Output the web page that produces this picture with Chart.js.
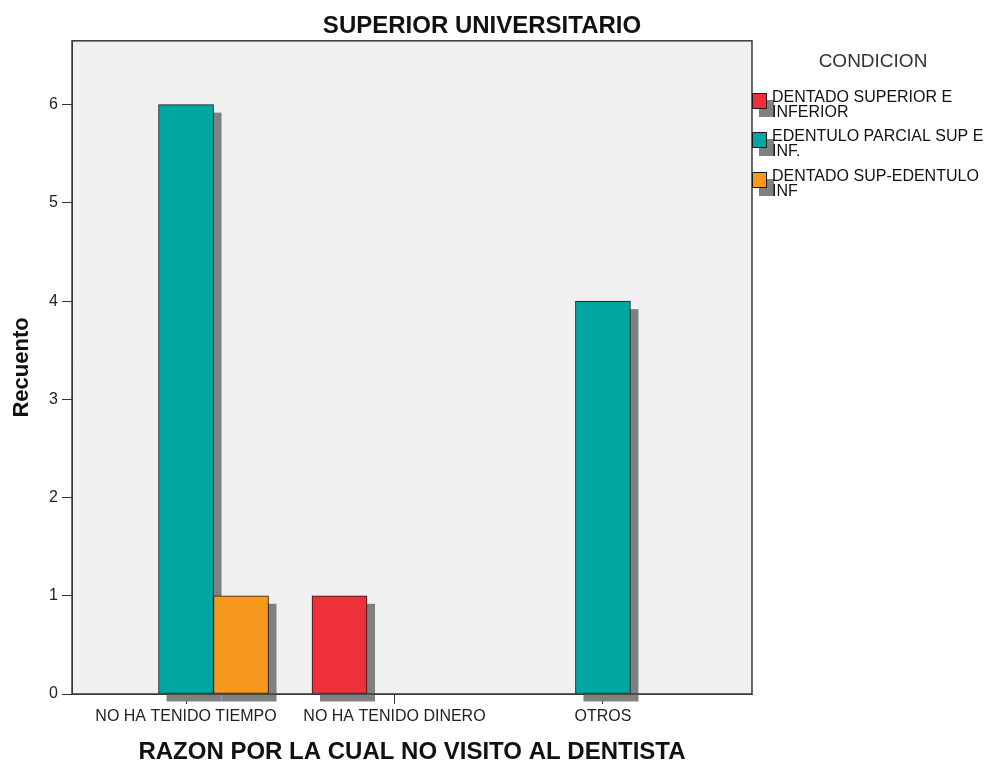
<!DOCTYPE html>
<html>
<head>
<meta charset="utf-8">
<script src="https://cdn.jsdelivr.net/npm/chart.js@4.4.0/dist/chart.umd.min.js"></script>
<style>
  html, body { margin: 0; padding: 0; background: #fff; }
</style>
</head>
<body>
<canvas id="chart" width="992" height="764"></canvas>
<script>
// Chart data
const categories = ['NO HA TENIDO TIEMPO', 'NO HA TENIDO DINERO', 'OTROS'];
const dentadoSupInf = [null, 1, null];
const edentuloParcial = [6, null, 4];
const dentadoSupEdentuloInf = [1, null, null];
const yTicks = [0, 1, 2, 3, 4, 5, 6];
const seriesLabels = ['DENTADO SUPERIOR E INFERIOR', 'EDENTULO PARCIAL SUP E INF.', 'DENTADO SUP-EDENTULO INF'];
const legendLines = [['DENTADO SUPERIOR E', 'INFERIOR'], ['EDENTULO PARCIAL SUP E', 'INF.'], ['DENTADO SUP-EDENTULO', 'INF']];
const seriesColors = ['#ee3038', '#00a6a2', '#f8991f'];

const FONT = "'Liberation Sans', Arial, sans-serif";

function toPoints(values) {
    return values.map((v, i) => ({ x: i, y: v }));
}

// Grey plot background and frame
const plotFrame = {
    id: 'plotFrame',
    beforeDraw(chart) {
        const { ctx, chartArea: a } = chart;
        ctx.save();
        ctx.fillStyle = '#f0f0f0';
        ctx.fillRect(a.left, a.top, a.right - a.left, a.bottom - a.top);
        ctx.restore();
    },
    afterDatasetsDraw(chart) {
        const { ctx, chartArea: a } = chart;
        ctx.save();
        ctx.strokeStyle = '#3a3a3a';
        ctx.lineWidth = 1.5;
        ctx.strokeRect(a.left, a.top, a.right - a.left, a.bottom - a.top);
        ctx.restore();
    }
};

// Drop shadows behind bars
const barShadow = {
    id: 'barShadow',
    beforeDatasetsDraw(chart) {
        const ctx = chart.ctx;
        ctx.save();
        ctx.fillStyle = '#808080';
        chart.data.datasets.forEach((ds, i) => {
            chart.getDatasetMeta(i).data.forEach((bar, j) => {
                if (ds.data[j].y == null) return;
                const p = bar.getProps(['x', 'y', 'base', 'width'], true);
                ctx.fillRect(p.x - p.width / 2 + 8, p.y + 8, p.width, p.base - p.y);
            });
        });
        ctx.restore();
    }
};

// Legend on the right, SPSS style
const sideLegend = {
    id: 'sideLegend',
    afterDraw(chart) {
        const ctx = chart.ctx;
        ctx.save();
        ctx.fillStyle = '#333';
        ctx.font = '19px ' + FONT;
        ctx.textAlign = 'center';
        ctx.textBaseline = 'middle';
        ctx.fillText('CONDICION', 873, 62);

        const tops = [93, 132, 172];
        ctx.textAlign = 'left';
        ctx.font = '16px ' + FONT;
        chart.data.datasets.forEach((ds, i) => {
            const y = tops[i];
            ctx.fillStyle = '#808080';
            ctx.fillRect(759, y + 7, 15, 17);
            ctx.fillStyle = ds.backgroundColor;
            ctx.fillRect(752, y, 15, 16);
            ctx.strokeStyle = '#1a1a1a';
            ctx.lineWidth = 1;
            ctx.strokeRect(752.5, y + 0.5, 14, 15);
            ctx.fillStyle = '#111';
            legendLines[i].forEach((line, k) => {
                ctx.fillText(line, 772, y + 5 + k * 15);
            });
        });
        ctx.restore();
    }
};

const ctx = document.getElementById('chart').getContext('2d');
new Chart(ctx, {
    type: 'bar',
    data: {
        datasets: [
            { label: seriesLabels[0], data: toPoints(dentadoSupInf), backgroundColor: seriesColors[0] },
            { label: seriesLabels[1], data: toPoints(edentuloParcial), backgroundColor: seriesColors[1] },
            { label: seriesLabels[2], data: toPoints(dentadoSupEdentuloInf), backgroundColor: seriesColors[2] }
        ]
    },
    options: {
        responsive: false,
        animation: false,
        layout: { padding: { left: 0, right: 28, top: 0, bottom: 0 } },
        datasets: {
            bar: {
                barThickness: 55,
                borderColor: '#1a1a1a',
                borderWidth: 1,
                borderSkipped: false
            }
        },
        plugins: {
            legend: { display: false },
            tooltip: { enabled: false },
            title: {
                display: true,
                text: 'SUPERIOR UNIVERSITARIO',
                color: '#111',
                font: { family: FONT, size: 24, weight: 'bold', lineHeight: 1.2 },
                padding: { top: 12, bottom: 0 }
            }
        },
        scales: {
            x: {
                type: 'linear',
                offset: false,
                min: -0.547,
                max: 2.715,
                afterBuildTicks(scale) {
                    scale.ticks = categories.map((c, i) => ({ value: i }));
                },
                afterFit(scale) { scale.height = 70; },
                ticks: {
                    color: '#222',
                    font: { family: FONT, size: 16 },
                    padding: 3,
                    maxRotation: 0,
                    autoSkip: false,
                    callback: (v) => categories[v]
                },
                grid: { offset: false, drawOnChartArea: false, drawTicks: true, tickLength: 10, color: '#333' },
                border: { display: true, color: '#333' },
                title: {
                    display: true,
                    text: 'RAZON POR LA CUAL NO VISITO AL DENTISTA',
                    color: '#111',
                    font: { family: FONT, size: 24, weight: 'bold', lineHeight: 1 },
                    padding: 0
                }
            },
            y: {
                min: 0,
                max: 6.65,
                afterBuildTicks(scale) {
                    scale.ticks = yTicks.map(v => ({ value: v }));
                },
                afterFit(scale) { scale.width = 72; },
                ticks: {
                    color: '#222',
                    font: { family: FONT, size: 16 },
                    padding: 4
                },
                grid: { drawOnChartArea: false, drawTicks: true, tickLength: 10, color: '#333' },
                border: { display: true, color: '#333' },
                title: {
                    display: true,
                    text: 'Recuento',
                    color: '#111',
                    font: { family: FONT, size: 22, weight: 'bold', lineHeight: 1.2 },
                    padding: { top: 9, bottom: 0 }
                }
            },
            // empty right axis that keeps room for the legend
            legendSpace: {
                type: 'linear',
                position: 'right',
                min: 0,
                max: 1,
                afterFit(scale) { scale.width = 212; },
                ticks: { display: false },
                grid: { display: false, drawTicks: false },
                border: { display: false }
            }
        }
    },
    plugins: [plotFrame, barShadow, sideLegend]
});
</script>
</body>
</html>
